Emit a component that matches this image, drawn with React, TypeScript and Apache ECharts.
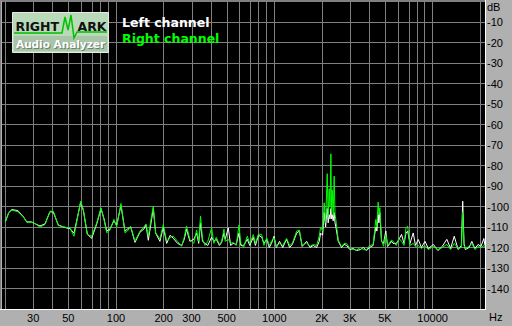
import React, { useEffect, useRef } from "react";
import * as echarts from "echarts";

const freqs = [
  20, 21, 22, 24, 26, 27.3, 29.3, 31, 33.1, 35.6, 38.3, 40.2, 43.2, 46.5, 49, 51.2, 54.3, 59.8, 62.2, 65.9,
  70.2, 75.6, 80.4, 84, 87.4, 91.6, 97, 101, 107.5, 114, 118, 123.8, 131.8, 141.8, 150, 154.8, 160, 172, 178, 189.5,
  199, 209, 220, 230, 245, 260, 270, 279, 293, 310, 323, 333, 342, 352, 365, 380, 402, 415, 430, 450,
  465, 481, 490, 512, 530, 550, 575, 598, 615, 640, 675, 700, 737, 760, 795, 833, 860, 896, 930, 960,
  996, 1030, 1080, 1130, 1196, 1250, 1300, 1385, 1440, 1500, 1601, 1680, 1763, 1850, 1923, 1962, 2020, 2067, 2110, 2159,
  2190, 2222, 2250, 2278, 2300, 2322, 2355, 2389, 2420, 2450, 2535, 2661, 2760, 2862, 3000, 3150, 3306, 3500, 3650, 3826,
  4000, 4212, 4300, 4381, 4450, 4530, 4580, 4642, 4757, 4900, 5064, 5200, 5498, 5623, 5900, 6141, 6366, 6600, 6790, 6956,
  7200, 7546, 7800, 8119, 8500, 8956, 9400, 10120, 10800, 11500, 12300, 13000, 13700, 14500, 15200, 15500, 15800, 16100, 17000, 17700,
  18500, 19400, 20200, 21100, 21400,
];

const rightDb = [
  -107.5, -103, -101.8, -102.5, -105, -107.7, -107.7, -108.5, -110, -108.8, -102.3, -102.3, -109.3, -109.9, -110.3, -110.4, -114.5, -97.4, -101.5, -113.7,
  -114.5, -108, -100.7, -106.3, -112.8, -111.5, -106.3, -110, -98.5, -112.8, -112, -109.6, -116.9, -112, -110, -108.5, -114.5, -99.8, -112.8, -115.8,
  -108.9, -117, -115, -114.5, -117, -119.4, -115, -109.5, -116, -118, -111.5, -117, -104.7, -116, -119, -117, -110.4, -118, -115, -118.5,
  -117, -111, -117, -116, -118, -117.5, -119, -109.1, -118, -120, -114.5, -118, -113.7, -118, -113.4, -113.7, -119, -115.3, -119, -117,
  -115.3, -119.5, -118, -119, -115.6, -119, -118, -112, -111.5, -119, -117.7, -119.5, -118.5, -119, -114.5, -110, -112, -98.2, -108, -84,
  -105, -91.4, -100, -74.3, -102, -91.9, -104, -85.2, -104, -106.5, -116.4, -119.7, -118, -118, -120.5, -121, -121.2, -120, -121, -121.2,
  -119, -118.6, -112, -106.3, -110, -97.9, -104, -100.6, -116.4, -119.4, -113.7, -119, -116.4, -116.9, -119, -115.6, -117, -119, -110.4, -109.6,
  -119, -118, -119.5, -119, -120.5, -119, -121, -119.5, -121, -120, -118.5, -121, -118, -120.5, -120, -102.6, -119, -120.5, -119.5, -118,
  -121, -119.5, -120, -119, -120,
];

const leftDb = [
  -107.5, -103, -101.5, -102, -105, -107.5, -107.5, -108.5, -109.5, -108.5, -102.5, -102.8, -109, -110, -110.5, -110.8, -113, -98, -102, -113.5,
  -115.5, -108.5, -101, -106, -112, -111, -107, -109, -99.5, -112, -111, -110, -117.5, -112.5, -111, -109, -116.5, -101, -113, -117,
  -110, -118, -114, -115.5, -118, -119, -116, -111, -117, -116, -113, -118, -108, -117, -118, -119, -115, -117, -116, -119,
  -117.5, -113, -116, -110.4, -119, -118, -118.5, -113, -119, -119, -116, -119, -115, -119, -114, -115, -118, -116, -120, -118,
  -114.5, -120, -117, -120, -116, -120, -118.5, -113, -112, -119.5, -117, -120, -119, -120, -117, -113, -114, -103, -110, -101,
  -108, -104, -106, -101, -106, -104, -107, -103, -108, -110, -117, -120, -118.5, -119, -121, -120.5, -121.5, -121, -120, -121.5,
  -120, -119, -114, -110, -112, -104, -108, -103, -117, -118, -111.9, -119.5, -117, -118, -118, -116, -113.6, -118, -113, -112,
  -118, -112.9, -119, -116.1, -120, -117, -120.5, -118.5, -121.5, -119.5, -116, -120.5, -114.5, -121, -119, -97.4, -118, -121, -120, -117,
  -120.5, -118.5, -119.5, -115.6, -119,
];

const gridFreqs = [
  20, 30, 40, 50, 60, 70, 80, 90, 100, 200, 300, 400, 500, 600, 700, 800, 900,
  1000, 2000, 3000, 4000, 5000, 6000, 7000, 8000, 9000, 10000, 20000,
];

const labelFreqs = [30, 50, 100, 200, 300, 500, 1000, 2000, 3000, 5000, 10000];
const labelTexts = ["30", "50", "100", "200", "300", "500", "1000", "2K", "3K", "5K", "10000"];

const yTickLabels = ["-10", "-20", "-30", "-40", "-50", "-60", "-70", "-80", "-90", "-100", "-110", "-120", "-130", "-140"];

const legendNames = ["Left channel", "Right channel"];

export default function App() {
  const ref = useRef<HTMLDivElement>(null);

  useEffect(() => {
    if (!ref.current) return;
    const chart = echarts.init(ref.current, null, { renderer: "svg" });
    const lg = (f: number) => Math.log10(f);
    const labelMap: Record<number, string> = {};
    labelFreqs.forEach((f, i) => (labelMap[Math.round(f)] = labelTexts[i]));

    const option: any = {
      animation: false,
      backgroundColor: "#b0b0b0",
      grid: {
        left: 2,
        right: 27,
        top: 1.5,
        bottom: 17,
        show: true,
        backgroundColor: "#000000",
        borderWidth: 0,
      },
      xAxis: {
        type: "value",
        min: lg(19.05),
        max: lg(21430),
        axisLine: { show: false },
        axisTick: { show: false },
        splitLine: { show: false },
        axisLabel: {
          customValues: labelFreqs.map(lg),
          formatter: (v: number) => labelMap[Math.round(Math.pow(10, v))] || "",
          color: "#000000",
          fontFamily: "Liberation Sans",
          fontSize: 11,
          margin: 3,
        },
      },
      yAxis: {
        type: "value",
        position: "right",
        min: -150,
        max: 0,
        interval: 10,
        axisLine: { show: false },
        axisTick: { show: false },
        splitLine: { show: true, lineStyle: { color: "#808080", width: 1 } },
        axisLabel: {
          formatter: (v: number) => {
            const idx = Math.round(-v / 10) - 1;
            return idx >= 0 && idx < yTickLabels.length ? yTickLabels[idx] : "";
          },
          color: "#000000",
          fontFamily: "Liberation Sans",
          fontSize: 11,
          margin: 2,
        },
      },
      series: [
        {
          name: legendNames[0],
          type: "line",
          z: 3,
          showSymbol: false,
          symbol: "none",
          lineStyle: { color: "#ffffff", width: 1 },
          data: freqs.map((f, i) => [lg(f), leftDb[i]]),
          markLine: {
            silent: true,
            z: 1,
            symbol: "none",
            label: { show: false },
            lineStyle: { color: "#808080", width: 1, type: "solid" },
            data: gridFreqs.map((f) => ({ xAxis: lg(f) })),
          },
        },
        {
          name: legendNames[1],
          type: "line",
          z: 4,
          showSymbol: false,
          symbol: "none",
          lineStyle: { color: "#00ff00", width: 1 },
          data: freqs.map((f, i) => [lg(f), rightDb[i]]),
        },
      ],
      graphic: [
        // frame
        { type: "line", shape: { x1: 0.5, y1: 0.5, x2: 486, y2: 0.5 }, style: { stroke: "#808080", lineWidth: 1 }, z: 10 },
        { type: "line", shape: { x1: 0.5, y1: 0.5, x2: 0.5, y2: 310 }, style: { stroke: "#808080", lineWidth: 1 }, z: 10 },
        { type: "line", shape: { x1: 0, y1: 309.5, x2: 486, y2: 309.5 }, style: { stroke: "#ffffff", lineWidth: 1 }, z: 10 },
        { type: "line", shape: { x1: 485.5, y1: 0, x2: 485.5, y2: 310 }, style: { stroke: "#ffffff", lineWidth: 1 }, z: 10 },
        // axis captions
        { type: "text", x: 487, y: 7, style: { text: "dB", fill: "#000", font: "11px 'Liberation Sans'", textVerticalAlign: "middle" }, z: 10 },
        { type: "text", x: 489, y: 317, style: { text: "Hz", fill: "#000", font: "11px 'Liberation Sans'", textVerticalAlign: "middle" }, z: 10 },
        // legend
        { type: "text", x: 122, y: 22.5, style: { text: legendNames[0], fill: "#ffffff", font: "bold 12.5px 'DejaVu Sans'", textVerticalAlign: "middle" }, z: 10 },
        { type: "text", x: 122, y: 38, style: { text: legendNames[1], fill: "#00ff00", font: "bold 12.5px 'DejaVu Sans'", textVerticalAlign: "middle" }, z: 10 },
        // logo
        { type: "rect", shape: { x: 12.5, y: 12.5, width: 96, height: 40 }, style: { fill: "#b8dab8", stroke: "#e8e8e8", lineWidth: 1 }, z: 10 },
        { type: "rect", shape: { x: 14, y: 36, width: 93, height: 15 }, style: { fill: "#a9c4a9" }, z: 10 },
        { type: "text", x: 15.5, y: 26, style: { text: "RIGHT", fill: "#111", font: "bold 12.5px 'DejaVu Sans'", textVerticalAlign: "middle" }, z: 11 },
        { type: "text", x: 77.5, y: 26, style: { text: "ARK", fill: "#111", font: "bold 12.5px 'DejaVu Sans'", textVerticalAlign: "middle" }, z: 11 },
        {
          type: "polyline",
          shape: { points: [[14, 33], [62, 33], [65, 17], [68, 30], [71, 15], [74, 38], [77, 32], [107, 32]] },
          style: { stroke: "#00c000", lineWidth: 1.5, fill: "none" },
          z: 12,
        },
        { type: "text", x: 17, y: 44.5, style: { text: "Audio Analyzer", fill: "#6a806a", font: "bold 10.5px 'DejaVu Sans'", textVerticalAlign: "middle" }, z: 11 },
        { type: "text", x: 16, y: 43.5, style: { text: "Audio Analyzer", fill: "#ffffff", font: "bold 10.5px 'DejaVu Sans'", textVerticalAlign: "middle" }, z: 12 },
      ],
    };
    chart.setOption(option);
    return () => chart.dispose();
  }, []);

  return <div ref={ref} style={{ width: 512, height: 326, position: "absolute", left: 0, top: 0 }} />;
}
